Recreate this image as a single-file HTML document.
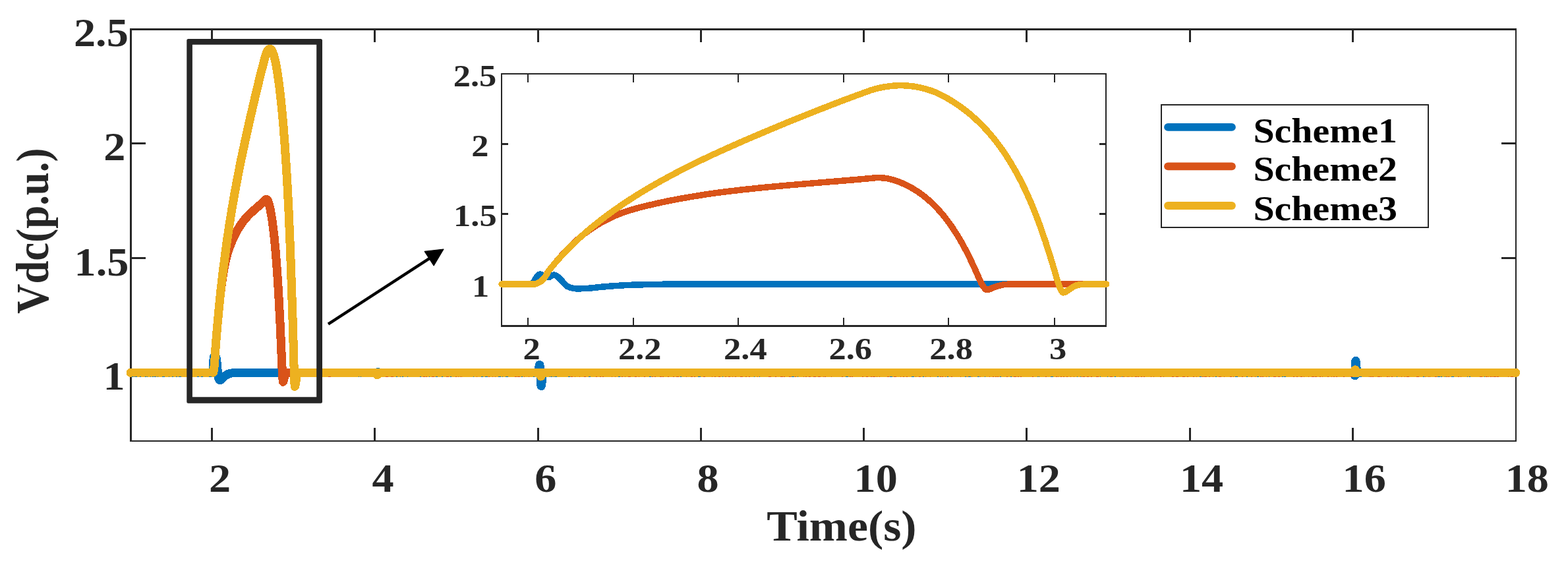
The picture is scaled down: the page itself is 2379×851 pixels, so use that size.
<!DOCTYPE html>
<html lang="en"><head><meta charset="utf-8"><title>Vdc response</title>
<style>html,body{margin:0;padding:0;background:#fff}body{width:2379px;height:851px}svg{display:block}text{font-family:"Liberation Serif",serif;font-weight:bold;white-space:pre}</style></head>
<body>
<svg width="2379" height="851" viewBox="0 0 2379 851">
<rect width="2379" height="851" fill="#fff"/>
<g fill="#262626" shape-rendering="crispEdges"><rect x="197" y="43" width="3" height="627"/><rect x="2299" y="43" width="2" height="627"/><rect x="197" y="43" width="2104" height="3"/><rect x="197" y="668" width="2104" height="2"/><rect x="320" y="649" width="3" height="19"/><rect x="320" y="46" width="3" height="18"/><rect x="567" y="649" width="3" height="19"/><rect x="567" y="46" width="3" height="18"/><rect x="815" y="649" width="3" height="19"/><rect x="815" y="46" width="3" height="18"/><rect x="1062" y="649" width="3" height="19"/><rect x="1062" y="46" width="3" height="18"/><rect x="1309" y="649" width="3" height="19"/><rect x="1309" y="46" width="3" height="18"/><rect x="1556" y="649" width="3" height="19"/><rect x="1556" y="46" width="3" height="18"/><rect x="1804" y="649" width="3" height="19"/><rect x="1804" y="46" width="3" height="18"/><rect x="2051" y="649" width="3" height="19"/><rect x="2051" y="46" width="3" height="18"/><rect x="200" y="216" width="21" height="3"/><rect x="2278" y="216" width="21" height="3"/><rect x="200" y="390" width="21" height="3"/><rect x="2278" y="390" width="21" height="3"/><rect x="200" y="564" width="21" height="3"/><rect x="2278" y="564" width="21" height="3"/></g>
<polyline points="198.1,565.4 322.5,565.4 322.6,565.3 322.9,563.0 323.4,555.4 323.8,548.3 324.2,543.8 324.4,541.7 324.6,541.1 324.7,541.2 325.0,541.8 326.3,548.0 326.6,548.6 326.8,547.9 327.3,544.8 327.6,543.6 327.9,542.8 327.9,542.7 328.1,543.2 328.6,546.2 329.2,550.9 330.7,568.7 331.0,570.9 331.5,573.2 332.1,574.8 332.8,576.2 333.1,576.5 333.4,576.6 334.2,576.5 335.7,575.8 336.5,575.2 338.9,572.5 341.2,570.4 343.4,568.9 345.5,567.7 347.3,567.0 349.9,566.3 353.6,565.7 357.5,565.5 363.3,565.4 569.6,565.4 569.8,565.5 570.3,566.2 570.9,567.1 571.1,567.5 571.4,567.6 571.6,567.5 572.2,566.7 573.0,565.2 573.2,564.8 573.6,564.6 574.0,564.7 575.1,565.3 575.6,565.4 816.3,565.4 816.5,565.2 816.8,564.2 817.3,561.0 818.1,555.4 818.3,554.1 818.6,553.5 818.7,553.4 818.9,553.8 819.1,555.9 819.7,563.8 820.4,578.5 820.7,582.3 821.0,584.8 821.2,585.6 821.5,584.8 821.8,582.9 823.1,568.0 823.3,566.1 823.6,565.4 2054.3,565.4 2054.4,565.5 2054.7,566.2 2055.5,569.4 2055.7,569.8 2056.0,566.7 2056.5,553.0 2056.8,548.0 2056.9,547.3 2057.0,547.5 2057.3,549.0 2057.8,554.7 2058.3,561.2 2058.6,563.7 2058.9,565.2 2059.0,565.4 2299.8,565.4" fill="none" stroke="#0072BD" stroke-width="13.1" stroke-linecap="round" stroke-linejoin="round" shape-rendering="crispEdges" />
<polyline points="198.1,565.4 317.9,565.4 323.4,565.2 323.6,564.8 324.2,562.6 324.7,559.4 325.5,551.6 326.0,544.2 326.8,530.2 330.0,491.5 332.1,468.5 333.9,450.8 335.8,434.8 337.8,420.4 339.7,409.2 341.5,399.6 343.4,391.4 345.2,384.6 347.0,378.7 349.4,372.3 352.3,365.2 355.4,358.3 358.6,352.1 361.7,346.6 365.0,341.5 368.3,336.8 371.7,332.5 375.4,328.3 379.6,324.0 384.9,319.2 397.5,308.2 402.2,303.8 403.2,302.7 403.5,302.3 403.8,302.2 404.3,302.3 405.1,302.8 405.6,303.3 406.4,304.8 407.2,306.7 408.5,311.2 409.9,316.8 411.4,324.7 413.0,334.5 414.5,346.2 416.1,360.0 417.7,376.2 419.5,398.4 421.4,424.7 423.2,455.5 425.2,493.6 427.4,544.6 428.5,567.8 429.0,575.4 429.3,578.2 429.5,579.3 429.8,578.9 430.1,578.1 431.1,573.6 432.1,569.8 433.2,567.2 433.7,566.3 434.2,565.9 435.0,565.5 435.8,565.4 2299.8,565.4" fill="none" stroke="#D95319" stroke-width="13.1" stroke-linecap="round" stroke-linejoin="round" shape-rendering="crispEdges" />
<polyline points="198.1,565.4 317.9,565.4 323.4,565.2 323.6,564.8 324.2,562.6 324.7,559.4 325.5,551.6 326.0,544.2 326.8,530.2 329.4,498.2 332.1,469.0 334.9,441.3 337.8,415.8 341.1,389.9 344.4,365.4 348.1,340.6 352.0,316.2 356.3,291.7 360.7,268.1 365.7,242.9 371.5,215.7 378.8,182.7 386.7,148.6 393.8,119.2 400.1,94.3 402.5,85.4 403.8,81.5 405.1,78.5 406.1,76.7 407.2,75.4 408.0,74.7 408.8,74.4 409.7,74.3 410.3,74.5 411.1,75.1 411.9,75.9 413.0,77.6 414.0,79.8 415.3,83.4 416.6,88.0 418.0,93.8 419.5,101.6 421.6,114.8 423.7,130.0 425.8,147.6 427.9,168.0 430.0,191.5 432.1,218.8 434.2,250.5 436.1,282.5 438.1,322.0 440.1,369.5 442.1,424.9 444.3,492.2 446.3,564.8 446.9,578.5 447.1,583.4 447.4,586.4 447.6,586.1 448.2,583.7 450.0,570.7 450.4,569.1 451.1,567.2 451.6,566.2 451.9,565.9 452.9,565.5 453.7,565.4 570.1,565.4 570.3,565.6 570.9,566.5 571.6,568.1 571.9,568.5 572.2,568.8 572.4,568.8 572.7,568.5 573.2,567.6 574.0,566.0 574.3,565.6 574.6,565.4 818.6,565.4 818.9,565.6 819.1,566.2 820.2,569.9 820.4,570.6 820.7,571.0 820.8,571.0 821.0,570.9 821.2,570.4 822.0,567.8 822.5,566.0 822.8,565.5 823.1,565.4 2054.0,565.4 2054.1,565.3 2054.4,565.0 2054.9,563.7 2055.7,561.5 2056.0,561.1 2056.2,561.0 2056.5,561.2 2057.0,562.4 2057.8,564.6 2058.1,565.2 2058.4,565.4 2299.8,565.4" fill="none" stroke="#EDB120" stroke-width="13.1" stroke-linecap="round" stroke-linejoin="round" shape-rendering="crispEdges" />
<g shape-rendering="crispEdges"><rect x="200" y="571" width="2" height="1" fill="#0072BD"/><rect x="203" y="571" width="1" height="1" fill="#0072BD"/><rect x="205" y="571" width="3" height="1" fill="#0072BD"/><rect x="212" y="571" width="2" height="1" fill="#0072BD"/><rect x="220" y="571" width="2" height="1" fill="#0072BD"/><rect x="223" y="571" width="1" height="1" fill="#0072BD"/><rect x="228" y="571" width="1" height="1" fill="#0072BD"/><rect x="231" y="571" width="2" height="1" fill="#0072BD"/><rect x="234" y="571" width="3" height="1" fill="#0072BD"/><rect x="239" y="571" width="1" height="1" fill="#0072BD"/><rect x="246" y="571" width="4" height="1" fill="#0072BD"/><rect x="256" y="571" width="1" height="1" fill="#0072BD"/><rect x="261" y="571" width="2" height="1" fill="#0072BD"/><rect x="267" y="571" width="2" height="1" fill="#0072BD"/><rect x="271" y="571" width="4" height="1" fill="#0072BD"/><rect x="285" y="571" width="2" height="1" fill="#0072BD"/><rect x="291" y="571" width="1" height="1" fill="#0072BD"/><rect x="299" y="571" width="3" height="1" fill="#0072BD"/><rect x="305" y="571" width="3" height="1" fill="#0072BD"/><rect x="317" y="571" width="4" height="1" fill="#0072BD"/><rect x="498" y="571" width="4" height="1" fill="#D95319"/><rect x="544" y="571" width="1" height="1" fill="#0072BD"/><rect x="547" y="571" width="1" height="1" fill="#0072BD"/><rect x="585" y="571" width="4" height="1" fill="#D95319"/><rect x="593" y="571" width="4" height="1" fill="#D95319"/><rect x="601" y="571" width="2" height="1" fill="#0072BD"/><rect x="607" y="571" width="1" height="1" fill="#0072BD"/><rect x="610" y="571" width="2" height="1" fill="#0072BD"/><rect x="618" y="571" width="1" height="1" fill="#0072BD"/><rect x="637" y="571" width="2" height="1" fill="#0072BD"/><rect x="642" y="571" width="3" height="1" fill="#D95319"/><rect x="646" y="571" width="2" height="1" fill="#D95319"/><rect x="651" y="571" width="1" height="1" fill="#0072BD"/><rect x="655" y="571" width="4" height="1" fill="#D95319"/><rect x="661" y="571" width="3" height="1" fill="#0072BD"/><rect x="670" y="571" width="2" height="1" fill="#0072BD"/><rect x="677" y="571" width="4" height="1" fill="#D95319"/><rect x="683" y="571" width="2" height="1" fill="#0072BD"/><rect x="691" y="571" width="2" height="1" fill="#D95319"/><rect x="695" y="571" width="1" height="1" fill="#D95319"/><rect x="698" y="571" width="1" height="1" fill="#D95319"/><rect x="700" y="571" width="1" height="1" fill="#D95319"/><rect x="718" y="571" width="1" height="1" fill="#0072BD"/><rect x="723" y="571" width="1" height="1" fill="#D95319"/><rect x="730" y="571" width="3" height="1" fill="#0072BD"/><rect x="736" y="571" width="4" height="1" fill="#0072BD"/><rect x="741" y="571" width="2" height="1" fill="#D95319"/><rect x="747" y="571" width="1" height="1" fill="#D95319"/><rect x="751" y="571" width="1" height="1" fill="#D95319"/><rect x="756" y="571" width="4" height="1" fill="#0072BD"/><rect x="762" y="571" width="1" height="1" fill="#0072BD"/><rect x="767" y="571" width="4" height="1" fill="#0072BD"/><rect x="781" y="571" width="3" height="1" fill="#D95319"/><rect x="785" y="571" width="4" height="1" fill="#D95319"/><rect x="791" y="571" width="2" height="1" fill="#0072BD"/><rect x="795" y="571" width="1" height="1" fill="#D95319"/><rect x="802" y="571" width="1" height="1" fill="#D95319"/><rect x="809" y="571" width="2" height="1" fill="#0072BD"/><rect x="834" y="571" width="1" height="1" fill="#0072BD"/><rect x="836" y="571" width="2" height="1" fill="#0072BD"/><rect x="840" y="571" width="1" height="1" fill="#0072BD"/><rect x="842" y="571" width="3" height="1" fill="#0072BD"/><rect x="862" y="571" width="3" height="1" fill="#0072BD"/><rect x="866" y="571" width="3" height="1" fill="#D95319"/><rect x="872" y="571" width="1" height="1" fill="#D95319"/><rect x="879" y="571" width="1" height="1" fill="#D95319"/><rect x="886" y="571" width="3" height="1" fill="#D95319"/><rect x="893" y="571" width="3" height="1" fill="#0072BD"/><rect x="904" y="571" width="2" height="1" fill="#D95319"/><rect x="910" y="571" width="2" height="1" fill="#D95319"/><rect x="914" y="571" width="2" height="1" fill="#D95319"/><rect x="928" y="571" width="1" height="1" fill="#D95319"/><rect x="933" y="571" width="1" height="1" fill="#D95319"/><rect x="938" y="571" width="3" height="1" fill="#0072BD"/><rect x="943" y="571" width="2" height="1" fill="#D95319"/><rect x="948" y="571" width="1" height="1" fill="#D95319"/><rect x="953" y="571" width="4" height="1" fill="#D95319"/><rect x="963" y="571" width="3" height="1" fill="#D95319"/><rect x="969" y="571" width="1" height="1" fill="#D95319"/><rect x="977" y="571" width="2" height="1" fill="#D95319"/><rect x="985" y="571" width="3" height="1" fill="#0072BD"/><rect x="989" y="571" width="2" height="1" fill="#D95319"/><rect x="993" y="571" width="2" height="1" fill="#D95319"/><rect x="1001" y="571" width="3" height="1" fill="#D95319"/><rect x="1005" y="571" width="2" height="1" fill="#D95319"/><rect x="1013" y="571" width="2" height="1" fill="#D95319"/><rect x="1021" y="571" width="2" height="1" fill="#D95319"/><rect x="1026" y="571" width="4" height="1" fill="#D95319"/><rect x="1032" y="571" width="2" height="1" fill="#0072BD"/><rect x="1041" y="571" width="1" height="1" fill="#D95319"/><rect x="1048" y="571" width="3" height="1" fill="#D95319"/><rect x="1053" y="571" width="2" height="1" fill="#D95319"/><rect x="1059" y="571" width="4" height="1" fill="#0072BD"/><rect x="1067" y="571" width="3" height="1" fill="#D95319"/><rect x="1080" y="571" width="1" height="1" fill="#D95319"/><rect x="1084" y="571" width="2" height="1" fill="#D95319"/><rect x="1090" y="571" width="3" height="1" fill="#D95319"/><rect x="1096" y="571" width="1" height="1" fill="#0072BD"/><rect x="1100" y="571" width="2" height="1" fill="#D95319"/><rect x="1105" y="571" width="3" height="1" fill="#D95319"/><rect x="1111" y="571" width="1" height="1" fill="#D95319"/><rect x="1115" y="571" width="2" height="1" fill="#D95319"/><rect x="1123" y="571" width="4" height="1" fill="#D95319"/><rect x="1131" y="571" width="2" height="1" fill="#D95319"/><rect x="1136" y="571" width="2" height="1" fill="#D95319"/><rect x="1144" y="571" width="1" height="1" fill="#0072BD"/><rect x="1149" y="571" width="1" height="1" fill="#D95319"/><rect x="1152" y="571" width="1" height="1" fill="#0072BD"/><rect x="1166" y="571" width="4" height="1" fill="#D95319"/><rect x="1176" y="571" width="2" height="1" fill="#D95319"/><rect x="1184" y="571" width="4" height="1" fill="#D95319"/><rect x="1189" y="571" width="2" height="1" fill="#D95319"/><rect x="1197" y="571" width="3" height="1" fill="#D95319"/><rect x="1201" y="571" width="4" height="1" fill="#0072BD"/><rect x="1206" y="571" width="2" height="1" fill="#D95319"/><rect x="1210" y="571" width="1" height="1" fill="#0072BD"/><rect x="1219" y="571" width="1" height="1" fill="#D95319"/><rect x="1222" y="571" width="2" height="1" fill="#D95319"/><rect x="1227" y="571" width="3" height="1" fill="#D95319"/><rect x="1234" y="571" width="4" height="1" fill="#D95319"/><rect x="1241" y="571" width="4" height="1" fill="#D95319"/><rect x="1249" y="571" width="1" height="1" fill="#D95319"/><rect x="1251" y="571" width="2" height="1" fill="#D95319"/><rect x="1261" y="571" width="1" height="1" fill="#D95319"/><rect x="1277" y="571" width="2" height="1" fill="#D95319"/><rect x="1283" y="571" width="4" height="1" fill="#0072BD"/><rect x="1289" y="571" width="2" height="1" fill="#D95319"/><rect x="1292" y="571" width="2" height="1" fill="#D95319"/><rect x="1308" y="571" width="2" height="1" fill="#D95319"/><rect x="1314" y="571" width="3" height="1" fill="#D95319"/><rect x="1321" y="571" width="2" height="1" fill="#D95319"/><rect x="1324" y="571" width="4" height="1" fill="#D95319"/><rect x="1330" y="571" width="1" height="1" fill="#D95319"/><rect x="1334" y="571" width="1" height="1" fill="#D95319"/><rect x="1346" y="571" width="3" height="1" fill="#D95319"/><rect x="1350" y="571" width="4" height="1" fill="#0072BD"/><rect x="1356" y="571" width="4" height="1" fill="#D95319"/><rect x="1366" y="571" width="1" height="1" fill="#D95319"/><rect x="1370" y="571" width="2" height="1" fill="#D95319"/><rect x="1375" y="571" width="2" height="1" fill="#D95319"/><rect x="1383" y="571" width="4" height="1" fill="#0072BD"/><rect x="1389" y="571" width="1" height="1" fill="#D95319"/><rect x="1394" y="571" width="3" height="1" fill="#D95319"/><rect x="1400" y="571" width="2" height="1" fill="#0072BD"/><rect x="1404" y="571" width="1" height="1" fill="#D95319"/><rect x="1411" y="571" width="1" height="1" fill="#D95319"/><rect x="1422" y="571" width="2" height="1" fill="#0072BD"/><rect x="1426" y="571" width="2" height="1" fill="#D95319"/><rect x="1429" y="571" width="2" height="1" fill="#D95319"/><rect x="1434" y="571" width="1" height="1" fill="#D95319"/><rect x="1437" y="571" width="2" height="1" fill="#0072BD"/><rect x="1443" y="571" width="2" height="1" fill="#D95319"/><rect x="1457" y="571" width="1" height="1" fill="#D95319"/><rect x="1464" y="571" width="2" height="1" fill="#0072BD"/><rect x="1467" y="571" width="1" height="1" fill="#D95319"/><rect x="1469" y="571" width="4" height="1" fill="#0072BD"/><rect x="1474" y="571" width="1" height="1" fill="#D95319"/><rect x="1483" y="571" width="3" height="1" fill="#0072BD"/><rect x="1487" y="571" width="1" height="1" fill="#D95319"/><rect x="1494" y="571" width="1" height="1" fill="#0072BD"/><rect x="1501" y="571" width="1" height="1" fill="#D95319"/><rect x="1506" y="571" width="2" height="1" fill="#D95319"/><rect x="1510" y="571" width="2" height="1" fill="#D95319"/><rect x="1513" y="571" width="2" height="1" fill="#D95319"/><rect x="1517" y="571" width="2" height="1" fill="#0072BD"/><rect x="1527" y="571" width="2" height="1" fill="#D95319"/><rect x="1533" y="571" width="2" height="1" fill="#0072BD"/><rect x="1538" y="571" width="4" height="1" fill="#D95319"/><rect x="1544" y="571" width="2" height="1" fill="#D95319"/><rect x="1548" y="571" width="2" height="1" fill="#D95319"/><rect x="1566" y="571" width="2" height="1" fill="#D95319"/><rect x="1574" y="571" width="1" height="1" fill="#0072BD"/><rect x="1576" y="571" width="1" height="1" fill="#0072BD"/><rect x="1586" y="571" width="2" height="1" fill="#D95319"/><rect x="1594" y="571" width="4" height="1" fill="#0072BD"/><rect x="1602" y="571" width="2" height="1" fill="#D95319"/><rect x="1605" y="571" width="1" height="1" fill="#D95319"/><rect x="1609" y="571" width="2" height="1" fill="#D95319"/><rect x="1613" y="571" width="2" height="1" fill="#D95319"/><rect x="1618" y="571" width="2" height="1" fill="#D95319"/><rect x="1624" y="571" width="1" height="1" fill="#D95319"/><rect x="1629" y="571" width="1" height="1" fill="#D95319"/><rect x="1634" y="571" width="1" height="1" fill="#0072BD"/><rect x="1639" y="571" width="1" height="1" fill="#0072BD"/><rect x="1641" y="571" width="1" height="1" fill="#D95319"/><rect x="1643" y="571" width="3" height="1" fill="#D95319"/><rect x="1649" y="571" width="3" height="1" fill="#D95319"/><rect x="1655" y="571" width="2" height="1" fill="#D95319"/><rect x="1663" y="571" width="4" height="1" fill="#D95319"/><rect x="1669" y="571" width="1" height="1" fill="#0072BD"/><rect x="1680" y="571" width="1" height="1" fill="#0072BD"/><rect x="1684" y="571" width="4" height="1" fill="#D95319"/><rect x="1691" y="571" width="2" height="1" fill="#0072BD"/><rect x="1699" y="571" width="1" height="1" fill="#D95319"/><rect x="1702" y="571" width="1" height="1" fill="#0072BD"/><rect x="1704" y="571" width="2" height="1" fill="#D95319"/><rect x="1710" y="571" width="1" height="1" fill="#D95319"/><rect x="1712" y="571" width="1" height="1" fill="#D95319"/><rect x="1717" y="571" width="1" height="1" fill="#D95319"/><rect x="1722" y="571" width="3" height="1" fill="#D95319"/><rect x="1726" y="571" width="2" height="1" fill="#D95319"/><rect x="1731" y="571" width="2" height="1" fill="#D95319"/><rect x="1735" y="571" width="2" height="1" fill="#D95319"/><rect x="1746" y="571" width="1" height="1" fill="#D95319"/><rect x="1750" y="571" width="1" height="1" fill="#D95319"/><rect x="1760" y="571" width="2" height="1" fill="#D95319"/><rect x="1765" y="571" width="1" height="1" fill="#D95319"/><rect x="1778" y="571" width="3" height="1" fill="#D95319"/><rect x="1784" y="571" width="4" height="1" fill="#D95319"/><rect x="1794" y="571" width="4" height="1" fill="#D95319"/><rect x="1801" y="571" width="2" height="1" fill="#D95319"/><rect x="1810" y="571" width="2" height="1" fill="#D95319"/><rect x="1815" y="571" width="1" height="1" fill="#D95319"/><rect x="1820" y="571" width="3" height="1" fill="#0072BD"/><rect x="1824" y="571" width="2" height="1" fill="#D95319"/><rect x="1827" y="571" width="4" height="1" fill="#D95319"/><rect x="1834" y="571" width="2" height="1" fill="#D95319"/><rect x="1840" y="571" width="1" height="1" fill="#D95319"/><rect x="1844" y="571" width="2" height="1" fill="#0072BD"/><rect x="1849" y="571" width="4" height="1" fill="#D95319"/><rect x="1857" y="571" width="1" height="1" fill="#D95319"/><rect x="1866" y="571" width="3" height="1" fill="#D95319"/><rect x="1871" y="571" width="1" height="1" fill="#D95319"/><rect x="1874" y="571" width="4" height="1" fill="#0072BD"/><rect x="1884" y="571" width="2" height="1" fill="#D95319"/><rect x="1891" y="571" width="2" height="1" fill="#0072BD"/><rect x="1898" y="571" width="2" height="1" fill="#D95319"/><rect x="1904" y="571" width="1" height="1" fill="#D95319"/><rect x="1907" y="571" width="3" height="1" fill="#0072BD"/><rect x="1912" y="571" width="2" height="1" fill="#D95319"/><rect x="1915" y="571" width="2" height="1" fill="#D95319"/><rect x="1921" y="571" width="1" height="1" fill="#D95319"/><rect x="1925" y="571" width="1" height="1" fill="#0072BD"/><rect x="1932" y="571" width="4" height="1" fill="#D95319"/><rect x="1939" y="571" width="3" height="1" fill="#D95319"/><rect x="1945" y="571" width="2" height="1" fill="#0072BD"/><rect x="1948" y="571" width="3" height="1" fill="#0072BD"/><rect x="1962" y="571" width="2" height="1" fill="#D95319"/><rect x="1967" y="571" width="2" height="1" fill="#D95319"/><rect x="1973" y="571" width="3" height="1" fill="#D95319"/><rect x="1978" y="571" width="1" height="1" fill="#D95319"/><rect x="1985" y="571" width="1" height="1" fill="#D95319"/><rect x="1990" y="571" width="4" height="1" fill="#D95319"/><rect x="1995" y="571" width="3" height="1" fill="#D95319"/><rect x="2002" y="571" width="2" height="1" fill="#D95319"/><rect x="2006" y="571" width="1" height="1" fill="#D95319"/><rect x="2014" y="571" width="2" height="1" fill="#D95319"/><rect x="2020" y="571" width="1" height="1" fill="#D95319"/><rect x="2023" y="571" width="2" height="1" fill="#D95319"/><rect x="2027" y="571" width="2" height="1" fill="#D95319"/><rect x="2038" y="571" width="2" height="1" fill="#D95319"/><rect x="2049" y="571" width="3" height="1" fill="#D95319"/><rect x="2062" y="571" width="4" height="1" fill="#0072BD"/><rect x="2077" y="571" width="1" height="1" fill="#D95319"/><rect x="2079" y="571" width="2" height="1" fill="#D95319"/><rect x="2082" y="571" width="2" height="1" fill="#D95319"/><rect x="2090" y="571" width="4" height="1" fill="#D95319"/><rect x="2095" y="571" width="1" height="1" fill="#D95319"/><rect x="2104" y="571" width="2" height="1" fill="#D95319"/><rect x="2107" y="571" width="1" height="1" fill="#D95319"/><rect x="2111" y="571" width="2" height="1" fill="#D95319"/><rect x="2119" y="571" width="1" height="1" fill="#0072BD"/><rect x="2126" y="571" width="1" height="1" fill="#D95319"/><rect x="2131" y="571" width="1" height="1" fill="#D95319"/><rect x="2134" y="571" width="4" height="1" fill="#D95319"/><rect x="2149" y="571" width="4" height="1" fill="#D95319"/><rect x="2159" y="571" width="2" height="1" fill="#0072BD"/><rect x="2162" y="571" width="1" height="1" fill="#D95319"/><rect x="2167" y="571" width="1" height="1" fill="#D95319"/><rect x="2169" y="571" width="1" height="1" fill="#D95319"/><rect x="2177" y="571" width="3" height="1" fill="#D95319"/><rect x="2181" y="571" width="4" height="1" fill="#0072BD"/><rect x="2186" y="571" width="2" height="1" fill="#0072BD"/><rect x="2192" y="571" width="1" height="1" fill="#0072BD"/><rect x="2194" y="571" width="2" height="1" fill="#D95319"/><rect x="2197" y="571" width="2" height="1" fill="#D95319"/><rect x="2202" y="571" width="4" height="1" fill="#0072BD"/><rect x="2212" y="571" width="2" height="1" fill="#D95319"/><rect x="2216" y="571" width="1" height="1" fill="#D95319"/><rect x="2226" y="571" width="1" height="1" fill="#0072BD"/><rect x="2229" y="571" width="2" height="1" fill="#0072BD"/><rect x="2245" y="571" width="4" height="1" fill="#D95319"/><rect x="2252" y="571" width="1" height="1" fill="#0072BD"/><rect x="2254" y="571" width="3" height="1" fill="#D95319"/><rect x="2258" y="571" width="1" height="1" fill="#D95319"/><rect x="2261" y="571" width="2" height="1" fill="#D95319"/><rect x="2264" y="571" width="1" height="1" fill="#D95319"/><rect x="2266" y="571" width="4" height="1" fill="#D95319"/><rect x="2271" y="571" width="3" height="1" fill="#D95319"/><rect x="2288" y="571" width="1" height="1" fill="#D95319"/><rect x="2292" y="571" width="4" height="1" fill="#D95319"/></g>
<path fill-rule="evenodd" fill="#262626" d="M285.8,59.0H486.5Q489.0,59.0 489.0,61.5V609.3Q489.0,611.8 486.5,611.8H285.8Q283.3,611.8 283.3,609.3V61.5Q283.3,59.0 285.8,59.0Z M291.9,67.8V602.3H480.2V67.8Z"/>
<path d="M498,491.6L652.87,391.07" stroke="#000" stroke-width="4.4" fill="none"/>
<path d="M673,378L658.13,402.85L644.25,381.46Z" fill="#000" stroke="#000" stroke-width="1.2" stroke-linejoin="round"/>
<rect x="760" y="111" width="919" height="385" fill="#fff"/>
<g fill="#262626" shape-rendering="crispEdges"><rect x="760" y="111" width="2" height="385"/><rect x="1677" y="111" width="2" height="385"/><rect x="760" y="111" width="919" height="2"/><rect x="760" y="493" width="919" height="3"/><rect x="800" y="482" width="2" height="11"/><rect x="800" y="113" width="2" height="12"/><rect x="960" y="482" width="2" height="11"/><rect x="960" y="113" width="2" height="12"/><rect x="1119" y="482" width="2" height="11"/><rect x="1119" y="113" width="2" height="12"/><rect x="1279" y="482" width="2" height="11"/><rect x="1279" y="113" width="2" height="12"/><rect x="1438" y="482" width="2" height="11"/><rect x="1438" y="113" width="2" height="12"/><rect x="1599" y="482" width="2" height="11"/><rect x="1599" y="113" width="2" height="12"/><rect x="762" y="217" width="9" height="3"/><rect x="1668" y="217" width="9" height="3"/><rect x="762" y="323" width="9" height="3"/><rect x="1668" y="323" width="9" height="3"/><rect x="762" y="430" width="9" height="3"/><rect x="1668" y="430" width="9" height="3"/></g>
<polyline points="761.0,431.0 805.8,431.0 806.3,430.9 806.9,430.6 807.5,430.0 808.8,428.6 810.6,426.2 813.0,421.9 814.0,420.5 816.7,417.6 817.9,416.6 818.5,416.3 819.4,416.1 820.4,416.2 821.6,416.5 824.0,417.6 828.3,419.6 830.2,420.3 831.4,420.7 832.0,420.7 832.6,420.6 833.2,420.4 834.4,419.7 836.3,418.6 839.3,417.3 839.9,417.2 840.6,417.1 841.2,417.2 842.4,417.5 845.0,419.0 846.1,419.7 847.9,421.3 851.6,425.0 855.5,429.5 858.9,433.0 860.1,434.0 861.4,434.7 863.8,435.7 866.3,436.5 869.9,437.3 873.6,437.8 876.0,437.9 884.0,437.7 893.8,437.2 901.1,436.5 912.1,435.3 928.7,433.9 948.2,432.7 962.3,432.1 985.5,431.5 1017.4,431.1 1060.2,431.0 1678.7,431.0" fill="none" stroke="#0072BD" stroke-width="9.5" stroke-linecap="round" stroke-linejoin="round" shape-rendering="crispEdges" />
<polyline points="761.0,431.0 811.8,430.9 813.0,430.7 814.9,430.0 818.5,428.2 820.4,427.0 822.2,425.4 824.7,422.9 827.1,420.0 828.3,418.1 831.4,412.5 832.7,410.4 838.1,403.8 847.3,393.0 854.6,384.8 861.5,377.4 868.1,370.9 874.2,365.1 880.3,359.8 886.4,354.8 892.6,350.3 899.3,345.6 906.0,341.3 912.7,337.3 919.5,333.7 926.8,330.1 934.2,326.8 941.5,323.8 949.5,321.0 958.0,318.3 967.8,315.5 980.0,312.4 995.9,308.7 1012.5,305.1 1029.6,301.8 1047.9,298.6 1066.9,295.5 1087.1,292.6 1109.1,289.8 1133.0,287.1 1159.9,284.3 1192.3,281.3 1244.3,277.0 1296.3,272.7 1326.9,269.9 1330.0,269.5 1333.6,269.5 1341.0,270.0 1344.6,270.5 1349.5,271.4 1352.6,272.2 1359.3,274.3 1365.4,276.5 1370.9,278.8 1376.4,281.4 1382.0,284.3 1387.5,287.6 1393.0,291.1 1398.5,295.0 1404.0,299.3 1409.5,303.9 1415.0,309.0 1419.9,313.9 1424.8,319.2 1429.7,324.8 1434.6,330.9 1439.5,337.4 1444.4,344.3 1449.5,352.1 1454.8,360.6 1459.8,369.3 1465.2,379.2 1470.7,390.1 1476.2,401.6 1482.3,415.1 1486.0,423.5 1489.0,429.9 1490.2,432.1 1491.5,434.0 1493.9,437.2 1495.1,438.5 1495.7,439.0 1496.4,439.3 1497.1,439.5 1498.8,439.3 1501.2,438.7 1502.5,438.3 1505.7,436.7 1511.0,434.7 1514.7,433.6 1520.8,432.1 1523.9,431.6 1527.6,431.3 1534.3,431.0 1678.7,431.0" fill="none" stroke="#D95319" stroke-width="9.5" stroke-linecap="round" stroke-linejoin="round" shape-rendering="crispEdges" />
<polyline points="761.0,431.0 811.8,430.9 813.0,430.7 814.9,430.0 818.5,428.2 820.4,427.0 822.2,425.4 824.7,422.9 827.1,420.0 828.3,418.1 832.0,411.5 833.2,409.7 841.8,399.5 849.1,391.2 857.1,382.6 865.0,374.5 873.6,366.3 882.3,358.2 891.3,350.3 901.1,342.2 911.5,333.9 921.9,326.0 932.9,318.1 944.6,310.0 956.8,302.0 969.6,293.9 983.1,285.8 997.8,277.3 1013.1,268.9 1029.0,260.4 1046.1,251.7 1064.5,242.7 1084.0,233.5 1105.4,223.8 1129.9,213.0 1159.9,200.2 1193.5,186.2 1224.7,173.6 1254.1,162.0 1281.6,151.4 1307.9,141.7 1322.0,136.6 1328.7,134.7 1335.5,133.1 1342.2,131.8 1349.0,130.8 1355.6,130.1 1362.4,129.7 1369.7,129.7 1376.4,130.0 1382.6,130.6 1388.7,131.4 1394.8,132.6 1400.9,134.0 1407.0,135.7 1413.2,137.7 1419.3,140.1 1425.4,142.8 1430.9,145.5 1436.4,148.5 1445.6,154.1 1452.3,158.5 1459.0,163.2 1465.8,168.3 1472.5,173.8 1479.2,179.7 1485.3,185.5 1491.5,191.6 1497.6,198.2 1503.7,205.2 1509.8,212.6 1515.8,220.5 1521.4,228.3 1527.1,236.7 1532.4,245.2 1537.9,254.4 1543.5,264.3 1549.0,274.8 1554.5,285.9 1560.0,297.9 1564.9,309.1 1570.1,322.0 1575.3,335.3 1580.8,350.5 1586.4,367.1 1591.8,383.8 1597.9,403.7 1604.9,427.6 1607.1,434.1 1608.3,437.1 1610.1,440.6 1611.4,442.6 1612.0,443.4 1612.6,443.8 1613.2,443.9 1614.4,443.7 1617.0,442.6 1618.7,441.6 1622.4,439.1 1627.9,435.3 1629.7,434.3 1631.5,433.4 1635.8,432.3 1638.9,431.6 1641.9,431.3 1649.9,431.0 1678.7,431.0" fill="none" stroke="#EDB120" stroke-width="9.5" stroke-linecap="round" stroke-linejoin="round" shape-rendering="crispEdges" />
<rect x="1762" y="159" width="405" height="186" fill="#fff" stroke="#262626" stroke-width="2" shape-rendering="crispEdges"/>
<path d="M1772,192.9H1869" stroke="#0072BD" stroke-width="11.8" stroke-linecap="round" fill="none"/>
<text transform="translate(1901.42,215.50) scale(1.1030,1)" font-size="52.5" fill="#000">Scheme1</text>
<path d="M1772,252.3H1869" stroke="#D95319" stroke-width="11.8" stroke-linecap="round" fill="none"/>
<text transform="translate(1901.42,273.50) scale(1.1030,1)" font-size="52.5" fill="#000">Scheme2</text>
<path d="M1772,312.0H1869" stroke="#EDB120" stroke-width="11.8" stroke-linecap="round" fill="none"/>
<text transform="translate(1901.42,334.00) scale(1.1030,1)" font-size="52.5" fill="#000">Scheme3</text>
<text transform="translate(317.09,745.60) scale(1.0920,1)" font-size="60.7" fill="#262626">2</text>
<text transform="translate(564.39,745.60) scale(1.0920,1)" font-size="60.7" fill="#262626">4</text>
<text transform="translate(811.16,745.60) scale(1.0920,1)" font-size="60.7" fill="#262626">6</text>
<text transform="translate(1057.48,745.60) scale(1.0920,1)" font-size="60.7" fill="#262626">8</text>
<text transform="translate(1295.60,745.60) scale(1.0920,1)" font-size="60.7" fill="#262626">10</text>
<text transform="translate(1542.70,745.60) scale(1.0920,1)" font-size="60.7" fill="#262626">12</text>
<text transform="translate(1789.90,745.60) scale(1.0920,1)" font-size="60.7" fill="#262626">14</text>
<text transform="translate(2036.50,745.60) scale(1.0920,1)" font-size="60.7" fill="#262626">16</text>
<text transform="translate(2283.70,745.60) scale(1.0920,1)" font-size="60.7" fill="#262626">18</text>
<text transform="translate(111.96,69.70) scale(1.0920,1)" font-size="60.7" fill="#262626">2.5</text>
<text transform="translate(157.19,242.95) scale(1.0920,1)" font-size="60.7" fill="#262626">2</text>
<text transform="translate(112.58,417.60) scale(1.0920,1)" font-size="60.7" fill="#262626">1.5</text>
<text transform="translate(156.43,591.10) scale(1.0920,1)" font-size="60.7" fill="#262626">1</text>
<text transform="translate(793.51,545.30) scale(1.1360,1)" font-size="46.2" fill="#262626">2</text>
<text transform="translate(938.00,545.30) scale(1.1360,1)" font-size="46.2" fill="#262626">2.2</text>
<text transform="translate(1098.10,545.30) scale(1.1360,1)" font-size="46.2" fill="#262626">2.4</text>
<text transform="translate(1257.50,545.30) scale(1.1360,1)" font-size="46.2" fill="#262626">2.6</text>
<text transform="translate(1410.30,545.30) scale(1.1360,1)" font-size="46.2" fill="#262626">2.8</text>
<text transform="translate(1591.95,545.30) scale(1.1360,1)" font-size="46.2" fill="#262626">3</text>
<text transform="translate(687.72,130.90) scale(1.1360,1)" font-size="46.2" fill="#262626">2.5</text>
<text transform="translate(715.31,237.00) scale(1.1360,1)" font-size="46.2" fill="#262626">2</text>
<text transform="translate(688.02,343.00) scale(1.1360,1)" font-size="46.2" fill="#262626">1.5</text>
<text transform="translate(716.09,449.90) scale(1.1360,1)" font-size="46.2" fill="#262626">1</text>
<text transform="translate(1163.15,820.20) scale(1.0740,1)" font-size="65" fill="#262626">Time(s)</text>
<text transform="translate(73.00,476.00) scale(1.1000,1.0060) rotate(-90)" font-size="62.5" fill="#262626">Vdc(p.u.)</text>
</svg>
</body></html>
